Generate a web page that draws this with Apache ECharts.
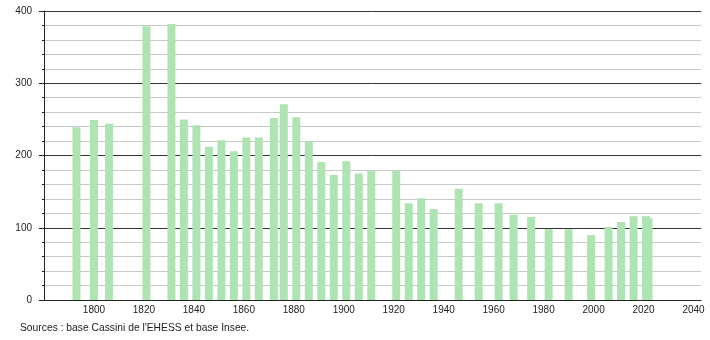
<!DOCTYPE html>
<html><head><meta charset="utf-8">
<script src="https://cdn.jsdelivr.net/npm/echarts@6/dist/echarts.min.js"></script>
<style>html,body{margin:0;padding:0;background:#fff}#c{width:710px;height:340px}</style>
</head><body><div id="c"></div>
<script>
var years = [1793,1800,1806,1821,1831,1836,1841,1846,1851,1856,1861,1866,1872,1876,1881,1886,1891,1896,1901,1906,1911,1921,1926,1931,1936,1946,1954,1962,1968,1975,1982,1990,1999,2006,2011,2016,2021,2022];
var population = [239,249,244,379,382,250,242,212,221,206,225,225,252,271,253,219,191,173,192,175,179,179,134,141,126,154,134,134,118,115,98,98,90,101,108,116,116,113];
var xTicks = [1800,1820,1840,1860,1880,1900,1920,1940,1960,1980,2000,2020,2040];
var yTicks = [0,100,200,300,400];
var sourceText = "Sources : base Cassini de l'EHESS et base Insee.";

var data = years.map(function(y,i){return [y, population[i]];});
var chart = echarts.init(document.getElementById('c'), null, {renderer:'canvas'});
var font = 'Liberation Sans, Arial, sans-serif';
chart.setOption({
  animation:false,
  grid:{left:44,right:9,top:11,bottom:40,containLabel:false},
  xAxis:{type:'value',min:1780,max:2043,interval:20,
    axisLine:{show:true,lineStyle:{color:'#222',width:1}},
    axisTick:{show:false},
    splitLine:{show:false},
    axisLabel:{color:'#222',fontSize:10,fontFamily:font,margin:5,showMinLabel:false,
      formatter:function(v){return xTicks.indexOf(v)>=0?String(v):'';}}
  },
  yAxis:{type:'value',min:0,max:400,interval:100,
    axisLine:{show:true,lineStyle:{color:'#222',width:1}},
    axisTick:{show:true,length:5,lineStyle:{color:'#222'}},
    minorTick:{show:true,splitNumber:5,length:2,lineStyle:{color:'#222'}},
    splitLine:{show:true,lineStyle:{color:'#333',width:1}},
    minorSplitLine:{show:true,lineStyle:{color:'#c8c8c8',width:1}},
    axisLabel:{color:'#222',fontSize:10,fontFamily:font,margin:12,
      formatter:function(v){return yTicks.indexOf(v)>=0?String(v):'';}}
  },
  series:[{type:'bar',data:data,barWidth:8,
    itemStyle:{color:'#ade4b2'}}],
  graphic:[{type:'text',left:20,top:323,style:{text:sourceText,fill:'#222',font:'10.3px '+font}}]
});
</script></body></html>
